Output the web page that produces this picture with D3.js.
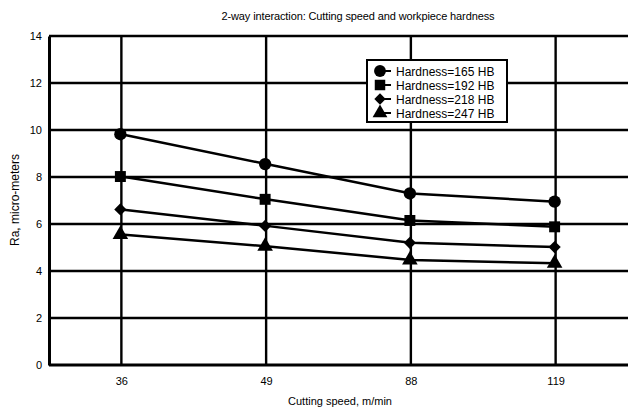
<!DOCTYPE html>
<html>
<head>
<meta charset="utf-8">
<script src="https://cdn.jsdelivr.net/npm/d3@7"></script>
<style>
  html, body { margin: 0; padding: 0; background: #fff; }
  svg { display: block; font-family: "Liberation Sans", Arial, sans-serif; }
</style>
</head>
<body>
<div id="app"></div>
<script>
// 横轴类别：切削速度 m/min
const speeds = ["36", "49", "88", "119"];
// 纵轴刻度
const yTicks = [0, 2, 4, 6, 8, 10, 12, 14];
// 各硬度的 Ra 值
const hardness = ["Hardness=165 HB", "Hardness=192 HB", "Hardness=218 HB", "Hardness=247 HB"];
const ra165 = [9.82, 8.55, 7.3, 6.95];
const ra192 = [8.02, 7.05, 6.15, 5.88];
const ra218 = [6.62, 5.92, 5.2, 5.02];
const ra247 = [5.55, 5.05, 4.47, 4.33];
const symbols = [d3.symbolCircle, d3.symbolSquare, d3.symbolSquare, d3.symbolTriangle];
const symbolSize = [120, 120, 75, 105];
const symbolRot = [0, 0, 45, 0];

const width = 628, height = 414;
const margin = { top: 36, right: 0, bottom: 49, left: 49 };

const svg = d3.select("#app").append("svg")
    .attr("width", width)
    .attr("height", height);

const x = d3.scalePoint()
    .domain(speeds)
    .range([margin.left, width - margin.right])
    .padding(0.5);

const y = d3.scaleLinear()
    .domain([0, 14])
    .range([height - margin.bottom, margin.top]);

// 网格线
const grid = svg.append("g").attr("stroke", "#000");
grid.selectAll(".hg")
    .data(yTicks.slice(1))
    .join("line")
    .attr("x1", margin.left).attr("x2", width)
    .attr("y1", d => y(d)).attr("y2", d => y(d))
    .attr("stroke-width", 2.4);

grid.selectAll(".vg")
    .data(speeds)
    .join("line")
    .attr("x1", d => x(d)).attr("x2", d => x(d))
    .attr("y1", y(14)).attr("y2", y(0))
    .attr("stroke-width", 2.4);

// 坐标轴
const yAxis = svg.append("g")
    .attr("transform", `translate(${margin.left},0)`)
    .call(d3.axisLeft(y).tickValues(yTicks).tickSize(0).tickPadding(7));
yAxis.select(".domain").attr("stroke-width", 3);
yAxis.selectAll("text").attr("font-size", 11).attr("font-family", "Liberation Sans, Arial");

const xAxis = svg.append("g")
    .attr("transform", `translate(0,${y(0)})`)
    .call(d3.axisBottom(x).tickSize(0).tickPadding(12));
xAxis.select(".domain").attr("d", `M${margin.left},0H${width}`).attr("stroke-width", 3);
xAxis.selectAll("text").attr("font-size", 11).attr("font-family", "Liberation Sans, Arial");

// 系列
const series = [ra165, ra192, ra218, ra247];
const line = d3.line().x((d, i) => x(speeds[i])).y(d => y(d));

series.forEach((vals, k) => {
    svg.append("path")
        .datum(vals)
        .attr("d", line)
        .attr("fill", "none")
        .attr("stroke", "#000")
        .attr("stroke-width", 2.5);
    svg.append("g").selectAll("path")
        .data(vals)
        .join("path")
        .attr("transform", (d, i) => `translate(${x(speeds[i]) - 1},${y(d)}) rotate(${symbolRot[k]})`)
        .attr("d", d3.symbol(symbols[k], symbolSize[k]))
        .attr("fill", "#000");
});

// 图例
const lg = svg.append("g").attr("transform", "translate(367,60)");
lg.append("rect")
    .attr("width", 140).attr("height", 62)
    .attr("fill", "#fff").attr("stroke", "#000").attr("stroke-width", 2);
hardness.forEach((name, k) => {
    const cy = 11 + k * 14;
    lg.append("line")
        .attr("x1", 12).attr("x2", 24).attr("y1", cy).attr("y2", cy)
        .attr("stroke", "#000").attr("stroke-width", 2);
    lg.append("path")
        .attr("transform", `translate(13,${cy}) rotate(${symbolRot[k]})`)
        .attr("d", d3.symbol(symbols[k], symbolSize[k] - 10))
        .attr("fill", "#000");
    lg.append("text")
        .attr("x", 29).attr("y", cy + 4.5)
        .attr("font-size", 12)
        .text(name);
});

// 标题与轴标题
svg.append("text")
    .attr("x", 358).attr("y", 20)
    .attr("text-anchor", "middle")
    .attr("font-size", 11)
    .attr("textLength", 273)
    .text("2-way interaction: Cutting speed and workpiece hardness");

svg.append("text")
    .attr("x", 340).attr("y", 405)
    .attr("text-anchor", "middle")
    .attr("font-size", 11)
    .text("Cutting speed, m/min");

svg.append("text")
    .attr("transform", "translate(19,200) rotate(-90)")
    .attr("text-anchor", "middle")
    .attr("font-size", 12)
    .text("Ra, micro-meters");
</script>
</body>
</html>
